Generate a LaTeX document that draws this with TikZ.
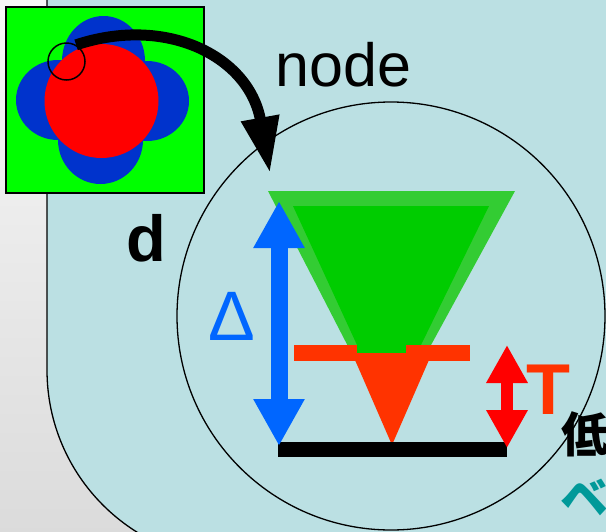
\documentclass[tikz,border=0pt]{standalone}
\usepackage{fontspec}
\setmainfont{Liberation Sans}
\newfontfamily\cjkfont{Noto Sans CJK JP}
\usepackage{xcolor}
\usetikzlibrary{arrows.meta,positioning}

\definecolor{panelteal}{RGB}{187,224,227}
\definecolor{chipgreen}{RGB}{0,255,0}
\definecolor{petalblue}{RGB}{0,51,204}
\definecolor{conelight}{RGB}{51,204,51}
\definecolor{conedark}{RGB}{0,204,0}
\definecolor{flamered}{RGB}{255,51,0}
\definecolor{deltablue}{RGB}{0,102,255}
\definecolor{kanateal}{RGB}{0,153,153}

\begin{document}
\begin{tikzpicture}[x=1pt,y=-1pt,
  petal/.style={fill=petalblue},
  ring/.style={circle,draw,inner sep=0pt},
  lbl/.style={inner sep=0pt,anchor=base},
  gap/.style={line width=#1}
]
\useasboundingbox (0,0) rectangle (606,531);
\clip (0,0) rectangle (606,531);
\shade[top color=black!3,bottom color=black!14] (0,0) rectangle (606,531);
\draw[fill=panelteal,line width=1.3pt,rounded corners=191pt] (47,-400) rectangle (900,561);

\draw[fill=chipgreen,line width=1.6pt] (6,7) rectangle (204,193);
\fill[petal] (103.5,61) ellipse[x radius=41.5pt,y radius=45pt];
\fill[petal] (100.5,140) ellipse[x radius=42.5pt,y radius=44pt];
\fill[petal] (58,100) ellipse[x radius=42pt,y radius=40pt];
\fill[petal] (147,101) ellipse[x radius=42pt,y radius=40pt];
\fill[red] (101.5,101) circle[radius=57pt];
\node[ring,line width=1.5pt,minimum size=37pt] (zoomspot) at (66.5,61.5) {};

\node[ring,line width=1.3pt,minimum size=428pt] (lens) at (391,316) {};

\fill[conelight] (268,191) -- (515,191) -- (388,424) -- cycle;
\fill[conedark] (293,206) -- (489,206) -- (421,345) -- (357,345) -- cycle;
\fill[flamered] (294,345) rectangle (470,361);
\fill[conedark] (357,345) rectangle (406,353);
\fill[flamered] (352,353) -- (432,353) -- (392,445) -- cycle;
\fill[black] (278,442) rectangle (507,457);

\coordinate (deltatop) at (279,201);
\coordinate (deltabot) at (279,446);
\coordinate (ttop) at (507,345);
\coordinate (tbot) at (507,448);
\draw[deltablue,gap=17pt,{Triangle[length=47pt,width=48pt]}-{Triangle[length=47pt,width=48pt]}] (deltatop) -- (deltabot);
\draw[red,gap=12pt,{Triangle[length=38pt,width=39pt]}-{Triangle[length=38pt,width=39pt]}] (ttop) -- (tbot);

\node[lbl,font=\fontsize{61}{61}\selectfont] (nodelbl) at (343.5,86) {node};
\node[lbl,font=\bfseries\fontsize{65}{65}\selectfont] (dlbl) at (146,261) {d};
\node[lbl,text=deltablue,font=\fontsize{70}{70}\selectfont] (deltalbl) at (232,340) {Δ};
\node[lbl,text=flamered,font=\bfseries\fontsize{72}{72}\selectfont] (tlbl) at (548.5,414) {T};
\node[lbl,anchor=base west,font=\cjkfont\bfseries\fontsize{48}{48}\selectfont] (lowlbl) at (561,452) {低};
\node[lbl,anchor=base west,text=kanateal,font=\cjkfont\bfseries\fontsize{48}{48}\selectfont] (belbl) at (560,515) {ベ};

\coordinate (lensin) at (270,173);
\draw[line width=11pt,-{Triangle[length=56pt,width=36pt]}] (zoomspot.60) .. controls (166,15) and (249,56) .. (lensin);
\end{tikzpicture}
\end{document}
